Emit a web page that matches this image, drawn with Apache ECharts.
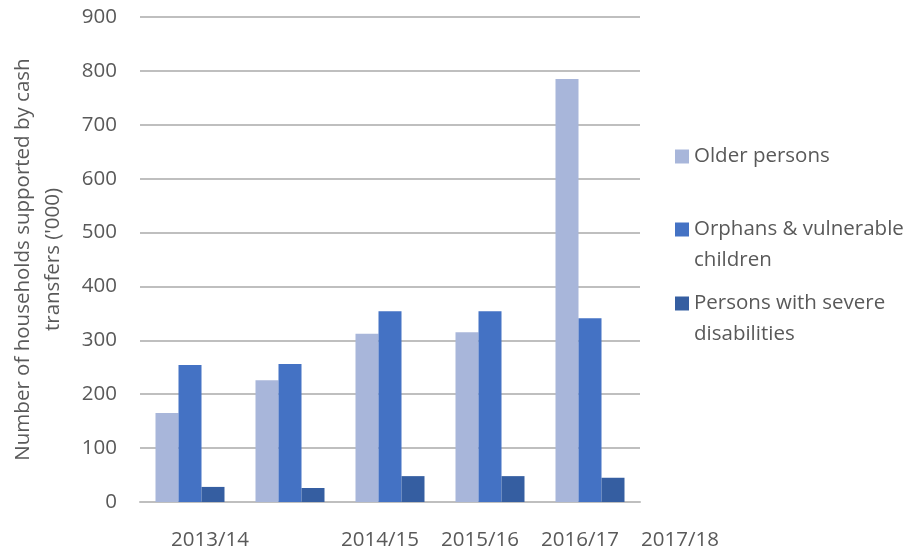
<!DOCTYPE html>
<html>
<head>
<meta charset="utf-8">
<script src="https://cdn.jsdelivr.net/npm/echarts@6/dist/echarts.min.js"></script>
<style>html,body{margin:0;padding:0;background:#fff;}#c{width:911px;height:550px;}</style>
</head>
<body>
<div id="c"></div>
<script>
// ---- data ----
const categories = ['G1', 'G2', 'G3', 'G4', 'G5'];
const olderPersons = [165, 226, 312, 315, 785];
const orphans = [254, 256, 354, 354, 341];
const disabilities = [28, 26, 48, 48, 45];
const seriesNames = ['Older persons', 'Orphans & vulnerable children', 'Persons with severe disabilities'];
const legendLabels = ['Older persons', '\nOrphans & vulnerable\nchildren', '\nPersons with severe\ndisabilities'];
const xTickLabels = ['2013/14', '2014/15', '2015/16', '2016/17', '2017/18'];
const xTickSlots = [7, 24, 34, 44, 54]; // in tenths of a category along the label strip
const yTicks = [0, 100, 200, 300, 400, 500, 600, 700, 800, 900];

const FONT = 'Open Sans';
const FS = 20.5;
const TXT = '#595959';
const colors = ['#A8B6DA', '#4472C4', '#355EA1'];
const labelMap = {};
xTickSlots.forEach((s, i) => { labelMap[s] = xTickLabels[i]; });

const chart = echarts.init(document.getElementById('c'));
const LH = 31;
const legendTops = [141, 183, 257];
chart.setOption({
  animation: false,
  color: colors,
  textStyle: { fontFamily: FONT, color: TXT },
  grid: [
    { left: 140, right: 271, top: 17, bottom: 48, outerBoundsMode: 'none', containLabel: false },
    { left: 140, width: 600, top: 17, bottom: 48, outerBoundsMode: 'none', containLabel: false }
  ],
  xAxis: [
    {
      type: 'category', data: categories, gridIndex: 0,
      axisLine: { lineStyle: { color: '#BFBFBF', width: 2 } },
      axisTick: { show: false },
      axisLabel: { show: false }
    },
    {
      type: 'value', gridIndex: 1, min: 0, max: 60, interval: 1,
      axisLine: { show: false }, axisTick: { show: false }, splitLine: { show: false },
      axisLabel: {
        margin: 28, fontSize: FS, color: TXT, fontFamily: FONT,
        showMinLabel: true, showMaxLabel: true,
        formatter: v => labelMap[Math.round(v)] || ''
      }
    }
  ],
  yAxis: [
    {
      type: 'value', gridIndex: 0, min: yTicks[0], max: yTicks[yTicks.length - 1], interval: 100,
      name: "Number of households supported by cash\ntransfers ('000)",
      nameLocation: 'middle', nameGap: 72, nameRotate: 90,
      nameTextStyle: { fontSize: FS, color: TXT, fontFamily: FONT, lineHeight: 30 },
      axisLine: { show: false }, axisTick: { show: false },
      axisLabel: { fontSize: FS, color: TXT, fontFamily: FONT, margin: 23 },
      splitLine: { lineStyle: { color: '#BFBFBF', width: 2 } }
    },
    { type: 'value', gridIndex: 1, show: false, min: 0, max: 900 }
  ],
  legend: seriesNames.map((n, i) => ({
    data: [{ name: n }],
    orient: 'vertical', left: 675, top: legendTops[i], padding: 0,
    itemWidth: 14, itemHeight: 14, icon: 'rect', selectedMode: false,
    formatter: () => legendLabels[i],
    textStyle: { fontSize: FS, color: TXT, fontFamily: FONT, lineHeight: LH }
  })),
  series: [
    { name: seriesNames[0], type: 'bar', data: olderPersons, barGap: '0%', barCategoryGap: '31%' },
    { name: seriesNames[1], type: 'bar', data: orphans, barGap: '0%', barCategoryGap: '31%' },
    { name: seriesNames[2], type: 'bar', data: disabilities, barGap: '0%', barCategoryGap: '31%' }
  ]
});
</script>
</body>
</html>
